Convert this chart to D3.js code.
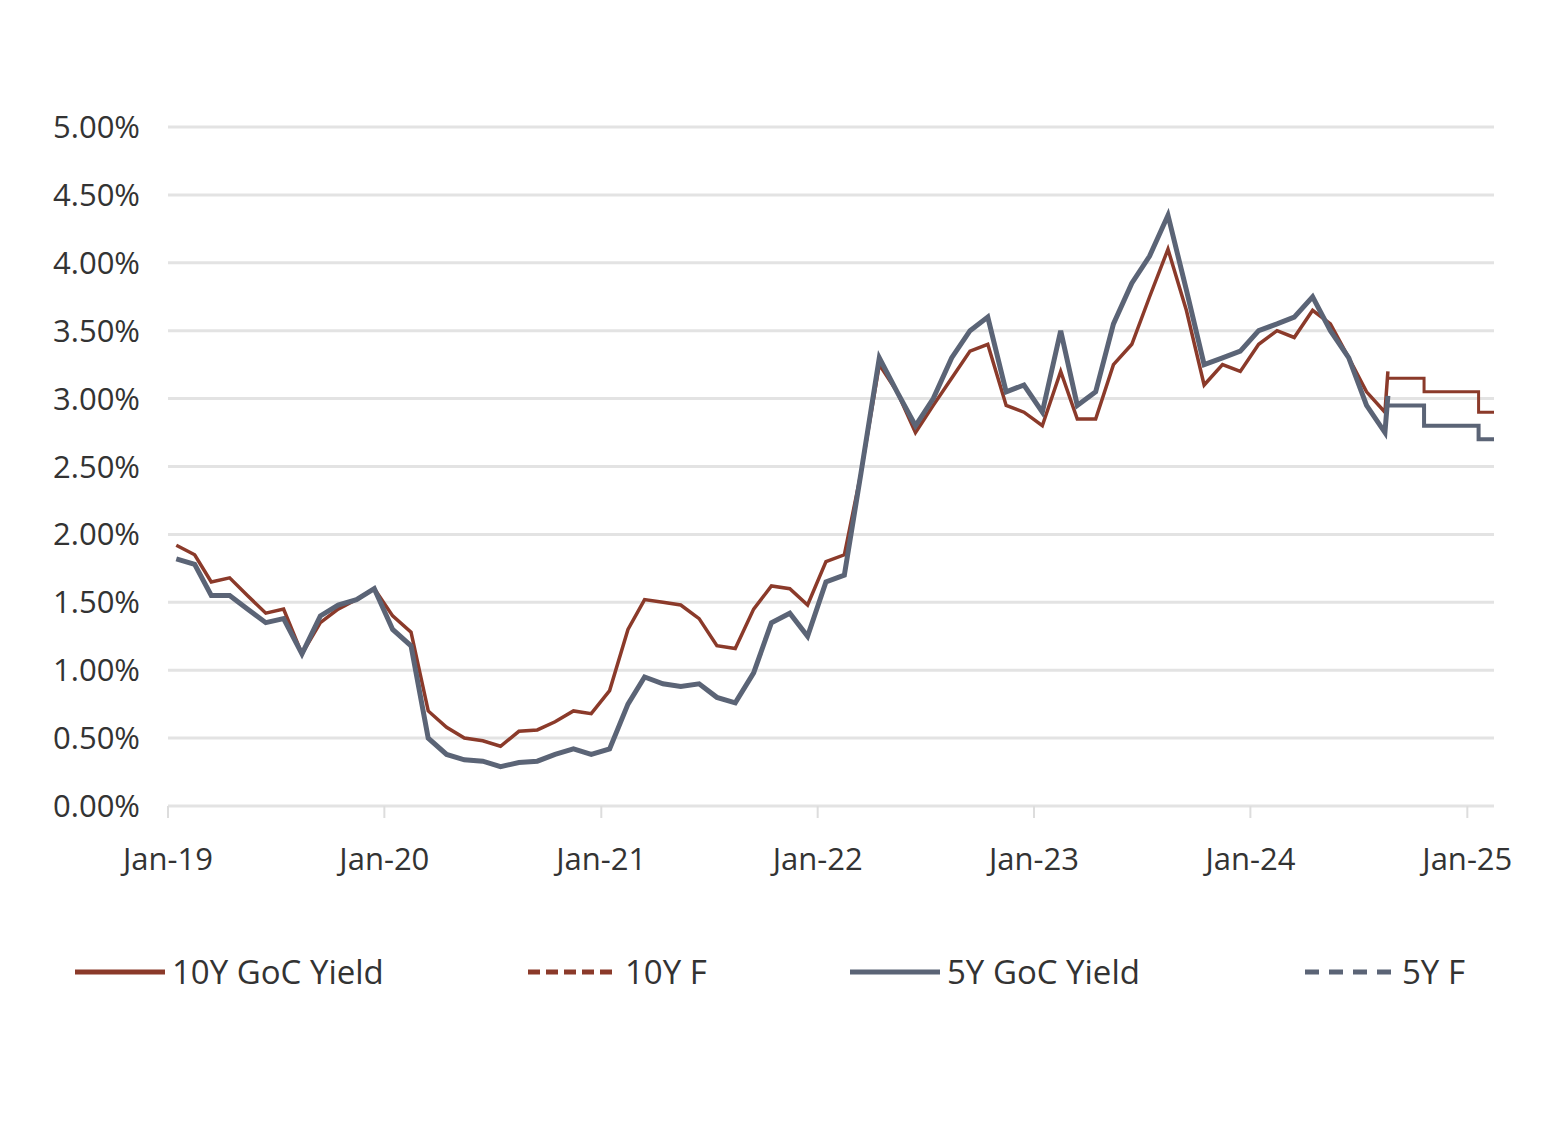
<!DOCTYPE html><html><head><meta charset="utf-8">
<script src="https://cdn.jsdelivr.net/npm/d3@7"></script>
<style>body{margin:0;background:#fff}</style></head><body>
<svg id="c" width="1546" height="1143"></svg>
<script>
const months=["2019-01","2019-02","2019-03","2019-04","2019-05","2019-06","2019-07","2019-08","2019-09","2019-10","2019-11","2019-12",
"2020-01","2020-02","2020-03","2020-04","2020-05","2020-06","2020-07","2020-08","2020-09","2020-10","2020-11","2020-12",
"2021-01","2021-02","2021-03","2021-04","2021-05","2021-06","2021-07","2021-08","2021-09","2021-10","2021-11","2021-12",
"2022-01","2022-02","2022-03","2022-04","2022-05","2022-06","2022-07","2022-08","2022-09","2022-10","2022-11","2022-12",
"2023-01","2023-02","2023-03","2023-04","2023-05","2023-06","2023-07","2023-08","2023-09","2023-10","2023-11","2023-12",
"2024-01","2024-02","2024-03","2024-04","2024-05","2024-06","2024-07","2024-08"];
const y10=[1.92,1.85,1.65,1.68,1.55,1.42,1.45,1.12,1.35,1.45,1.52,1.60,
1.40,1.28,0.70,0.58,0.50,0.48,0.44,0.55,0.56,0.62,0.70,0.68,
0.85,1.30,1.52,1.50,1.48,1.38,1.18,1.16,1.45,1.62,1.60,1.48,
1.80,1.85,2.45,3.25,3.05,2.75,2.95,3.15,3.35,3.40,2.95,2.90,
2.80,3.20,2.85,2.85,3.25,3.40,3.75,4.10,3.65,3.10,3.25,3.20,
3.40,3.50,3.45,3.65,3.55,3.30,3.05,2.90];
const y5=[1.82,1.78,1.55,1.55,1.45,1.35,1.38,1.12,1.40,1.48,1.52,1.60,
1.30,1.18,0.50,0.38,0.34,0.33,0.29,0.32,0.33,0.38,0.42,0.38,
0.42,0.75,0.95,0.90,0.88,0.90,0.80,0.76,0.98,1.35,1.42,1.25,
1.65,1.70,2.45,3.30,3.05,2.80,3.00,3.30,3.50,3.60,3.05,3.10,
2.90,3.50,2.95,3.05,3.55,3.85,4.05,4.35,3.80,3.25,3.30,3.35,
3.50,3.55,3.60,3.75,3.50,3.30,2.95,2.75];
const lastDate="2024-08-20", last10=3.20, last5=3.02;
const fDates=["2024-08-20","2024-10-20","2025-01-20","2025-02-15"];
const f10=[3.15,3.05,2.90];
const f5=[2.95,2.80,2.70];
const yTicks=[0,0.5,1,1.5,2,2.5,3,3.5,4,4.5,5];
const xTicks=["2019-01-01","2020-01-01","2021-01-01","2022-01-01","2023-01-01","2024-01-01","2025-01-01"];
const P=d3.timeParse("%Y-%m-%d");
const svg=d3.select("#c");
const x=d3.scaleTime().domain([P("2019-01-01"),P("2025-02-15")]).range([168,1494]);
const y=d3.scaleLinear().domain([0,5]).range([806,127]);
const font="'Open Sans', sans-serif";
yTicks.forEach(t=>{svg.append("line").attr("x1",168).attr("x2",1494).attr("y1",y(t)).attr("y2",y(t)).attr("stroke","#e3e3e3").attr("stroke-width",3);
svg.append("text").attr("x",140).attr("y",y(t)+11).attr("text-anchor","end").attr("font-family",font).attr("font-size",31).attr("fill","#333").text(t.toFixed(2)+"%");});
const fmt=d3.timeFormat("%b-%y");
xTicks.forEach(t=>{const d=P(t);svg.append("line").attr("x1",x(d)).attr("x2",x(d)).attr("y1",806).attr("y2",818).attr("stroke","#ddd").attr("stroke-width",2);
svg.append("text").attr("x",x(d)).attr("y",870).attr("text-anchor","middle").attr("font-family",font).attr("font-size",31).attr("fill","#333").text(fmt(d));});
const line=d3.line().x(d=>x(d[0])).y(d=>y(d[1]));
const s10=months.map((m,i)=>[P(m+"-15"),y10[i]]).concat([[P(lastDate),last10]]);
const s5=months.map((m,i)=>[P(m+"-15"),y5[i]]).concat([[P(lastDate),last5]]);
const step=(v)=>{const a=[];v.forEach((val,i)=>{a.push([P(fDates[i]),val]);a.push([P(fDates[i+1]),val]);});return a;};
svg.append("path").attr("d",line(step(f10))).attr("fill","none").attr("stroke","#8b3a2a").attr("stroke-width",3);
svg.append("path").attr("d",line(step(f5))).attr("fill","none").attr("stroke","#5b6476").attr("stroke-width",4);
svg.append("path").attr("d",line(s10)).attr("fill","none").attr("stroke","#8b3a2a").attr("stroke-width",3.5);
svg.append("path").attr("d",line(s5)).attr("fill","none").attr("stroke","#5b6476").attr("stroke-width",5);
const leg=[{x:75,t:"10Y GoC Yield",c:"#8b3a2a",d:null},{x:528,t:"10Y F",c:"#8b3a2a",d:"12,6"},{x:850,t:"5Y GoC Yield",c:"#5b6476",d:null},{x:1305,t:"5Y F",c:"#5b6476",d:"14,10"}];
leg.forEach(l=>{svg.append("line").attr("x1",l.x).attr("x2",l.x+90).attr("y1",972).attr("y2",972).attr("stroke",l.c).attr("stroke-width",5).attr("stroke-dasharray",l.d);
svg.append("text").attr("x",l.x+97).attr("y",984).attr("font-family",font).attr("font-size",33).attr("fill","#333").text(l.t);});
</script></body></html>
